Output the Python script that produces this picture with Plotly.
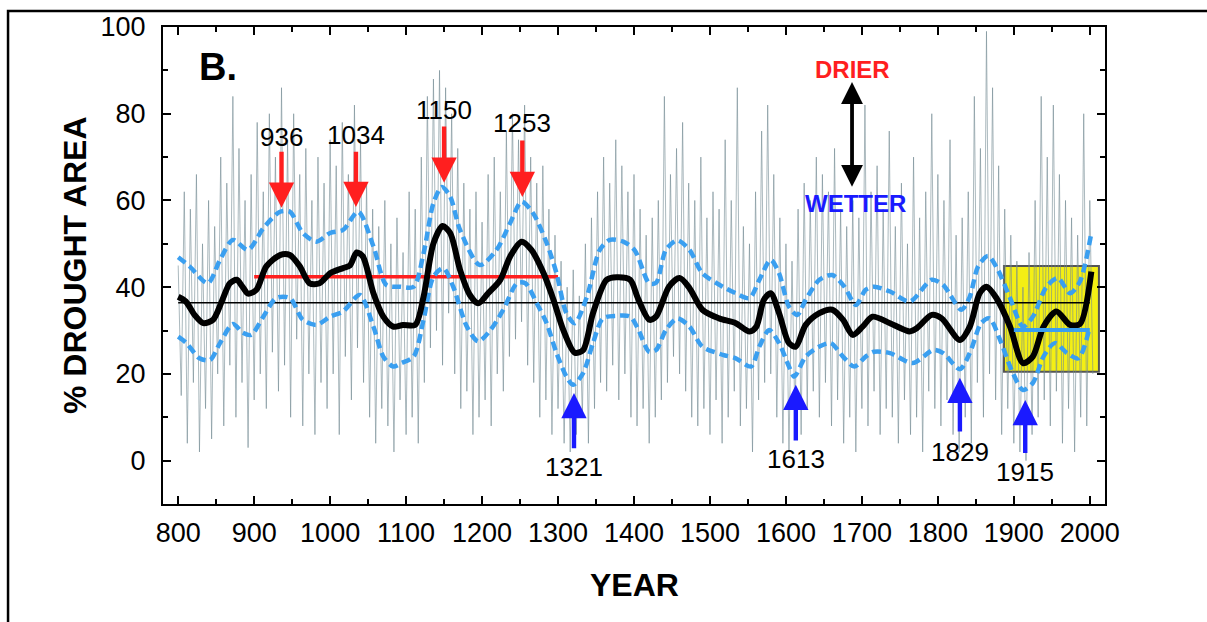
import plotly.graph_objects as go

# ---------------- data ----------------
gray_years = list(range(800, 2005, 4))
gray_vals = [
    45, 15, 62, 4, 58, 18, 66, 2, 50, 12,
    60, 5, 54, 20, 70, 8, 64, 22, 84, 10,
    72, 18, 60, 3, 66, 14, 78, 20, 62, 12,
    80, 25, 70, 16, 86, 22, 74, 10, 80, 28,
    66, 8, 72, 20, 60, 6, 70, 18, 64, 12,
    74, 20, 68, 6, 78, 24, 66, 14, 82, 26,
    74, 18, 64, 10, 58, 4, 54, 12, 60, 8,
    50, 2, 56, 14, 48, 6, 62, 10, 58, 4,
    70, 18, 84, 26, 88, 30, 90, 22, 86, 34,
    80, 20, 72, 12, 64, 16, 58, 6, 62, 10,
    55, 14, 66, 8, 70, 20, 62, 16, 76, 24,
    80, 28, 74, 32, 82, 22, 70, 18, 64, 10,
    68, 14, 58, 6, 52, 12, 46, 4, 40, 2,
    44, 6, 38, 10, 50, 4, 56, 12, 62, 18,
    70, 16, 64, 22, 74, 14, 68, 20, 62, 10,
    66, 8, 58, 12, 52, 4, 56, 10, 60, 14,
    84, 18, 66, 24, 72, 20, 78, 16, 64, 10,
    60, 8, 70, 12, 56, 6, 62, 14, 58, 4,
    74, 10, 60, 16, 86, 8, 54, 12, 50, 2,
    62, 14, 76, 18, 82, 20, 66, 10, 56, 4,
    50, 2, 46, 8, 58, 6, 64, 12, 60, 16,
    70, 10, 66, 18, 62, 8, 72, 14, 58, 4,
    54, 10, 60, 2, 56, 12, 82, 8, 62, 16,
    68, 6, 58, 12, 76, 10, 54, 4, 64, 14,
    50, 6, 70, 10, 56, 2, 62, 16, 80, 12,
    66, 8, 60, 14, 74, 6, 52, 2, 56, 10,
    62, 4, 84, 18, 72, 10, 99, 20, 86, 14,
    68, 6, 58, 12, 52, 4, 46, 2, 40, 0,
    48, 6, 60, 10, 84, 14, 70, 8, 82, 16,
    66, 4, 60, 12, 56, 2, 52, 10, 80, 8,
    60, 20,
]

smooth_years = [800, 810, 822, 833, 846, 858, 868, 877, 885, 892, 903, 916, 934, 947, 960, 973,
                986, 1000, 1017, 1026, 1035, 1043, 1057, 1070, 1083, 1096, 1112, 1123, 1136, 1148,
                1158, 1171, 1184, 1195, 1208, 1224, 1237, 1252, 1265, 1281, 1294, 1307, 1322, 1333,
                1346, 1364, 1377, 1395, 1405, 1420, 1429, 1446, 1460, 1473, 1490, 1512, 1534, 1552,
                1561, 1571, 1580, 1591, 1604, 1613, 1626, 1644, 1661, 1675, 1688, 1701, 1714, 1737,
                1763, 1772, 1792, 1805, 1829, 1842, 1855, 1864, 1877, 1895, 1912, 1925, 1939, 1956,
                1974, 1987, 2002]
smooth_vals = [37.8, 36.7, 33.5, 31.7, 32.5, 37.0, 40.9, 41.7, 40.0, 38.5, 39.4, 44.8, 47.4, 47.4, 44.8, 40.9,
               40.9, 43.2, 44.4, 45.0, 48.0, 47.1, 38.6, 33.2, 30.9, 31.3, 31.3, 37.8, 50.1, 54.1,
               52.5, 44.0, 38.2, 36.3, 38.6, 41.7, 47.1, 50.5, 48.6, 43.2, 37.1, 30.1, 24.9, 25.5,
               34.0, 41.7, 42.3, 41.7, 37.5, 32.5, 33.2, 40.1, 42.1, 39.8, 34.8, 32.8, 31.7, 29.8,
               30.9, 37.1, 38.6, 34.0, 27.1, 26.3, 31.3, 34.0, 34.8, 32.5, 29.0, 30.9, 33.2, 31.7,
               29.8, 30.5, 33.6, 32.8, 27.8, 30.9, 38.6, 40.1, 37.5, 30.9, 22.5, 24.0, 30.9, 34.4,
               31.3, 31.5, 43.6]

upper_years = [800, 815, 839, 855, 872, 892, 912, 934, 947, 964, 982, 1000, 1017, 1037, 1057, 1074,
               1092, 1110, 1123, 1136, 1147, 1158, 1171, 1197, 1219, 1237, 1252, 1267, 1285, 1298,
               1311, 1322, 1338, 1355, 1368, 1386, 1401, 1420, 1429, 1442, 1457, 1473, 1490, 1517,
               1534, 1552, 1565, 1580, 1591, 1604, 1615, 1626, 1644, 1661, 1677, 1692, 1705, 1716,
               1737, 1763, 1792, 1807, 1831, 1842, 1853, 1866, 1879, 1895, 1912, 1925, 1943, 1958,
               1974, 1987, 2002]
upper_vals = [46.9, 44.8, 40.9, 46.3, 50.9, 48.6, 53.6, 57.4, 57.4, 52.5, 50.5, 52.5, 53.2, 57.4, 49.4, 40.5,
              40.1, 40.1, 47.8, 59.4, 63.1, 60.9, 53.2, 45.1, 48.6, 54.8, 59.7, 57.1, 50.2, 43.2,
              34.0, 31.7, 37.8, 48.6, 50.9, 50.5, 48.5, 40.9, 41.0, 48.6, 50.8, 48.6, 43.2, 40.1,
              38.6, 37.5, 41.7, 46.3, 43.2, 35.5, 33.6, 37.1, 41.7, 42.8, 40.1, 35.9, 39.4, 40.1,
              39.0, 36.7, 41.7, 40.5, 34.8, 37.8, 44.8, 47.2, 44.0, 37.5, 30.9, 33.2, 40.1, 42.1,
              38.6, 41.3, 52.5]

lower_years = [800, 811, 828, 842, 855, 872, 885, 896, 912, 929, 947, 964, 982, 1000, 1017, 1039,
               1057, 1070, 1083, 1094, 1110, 1123, 1136, 1149, 1162, 1180, 1195, 1211, 1228, 1246,
               1257, 1272, 1285, 1298, 1311, 1320, 1333, 1346, 1359, 1377, 1395, 1405, 1420, 1429,
               1442, 1457, 1473, 1490, 1517, 1534, 1554, 1565, 1578, 1591, 1604, 1611, 1626, 1644,
               1659, 1675, 1690, 1705, 1716, 1737, 1767, 1794, 1807, 1829, 1842, 1857, 1868, 1882,
               1897, 1912, 1925, 1939, 1954, 1970, 1985, 2000]
lower_vals = [28.6, 27.1, 23.6, 23.2, 27.1, 31.5, 29.5, 29.0, 33.2, 37.5, 37.5, 32.5, 31.3, 33.2, 34.4, 38.2,
              30.9, 24.0, 21.7, 22.5, 24.0, 32.5, 42.4, 44.4, 40.1, 30.9, 27.5, 30.1, 34.8, 40.9,
              40.9, 36.3, 31.7, 24.8, 19.4, 17.5, 20.2, 27.1, 32.8, 33.4, 33.2, 30.5, 25.1, 25.5,
              30.1, 32.8, 30.9, 26.3, 24.4, 23.6, 21.7, 26.3, 30.1, 27.1, 21.7, 19.4, 24.0, 26.3,
              27.1, 24.0, 21.7, 24.0, 25.1, 24.8, 22.5, 25.5, 24.8, 21.1, 24.8, 31.7, 32.8, 27.8,
              20.9, 16.3, 17.9, 24.0, 27.1, 24.8, 23.6, 30.9]

longterm_span = [800, 2000]
longterm_mean = 36.4
medieval_span = [900, 1300]
medieval_mean = 42.4
modern_span = [1900, 2000]
modern_mean = 30.1
box_years = [1887, 2012]
box_vals = [20.5, 44.9]

dry_years = [936, 1034, 1150, 1253]
wet_years = [1321, 1613, 1829, 1915]

x_ticks = list(range(800, 2001, 100))
y_ticks = list(range(0, 101, 20))

# ---------------- figure ----------------
FONT = "Liberation Sans, Arial, Helvetica, sans-serif"
BLUE = "#3a9ff0"

fig = go.Figure()
fig.add_trace(go.Scatter(x=gray_years, y=gray_vals, mode="lines",
                         line=dict(color="rgba(115,138,146,0.6)", width=1), hoverinfo="skip"))
fig.add_trace(go.Scatter(x=longterm_span, y=[longterm_mean] * 2, mode="lines",
                         line=dict(color="black", width=1.5)))
fig.add_trace(go.Scatter(x=medieval_span, y=[medieval_mean] * 2, mode="lines",
                         line=dict(color="#ff1f1f", width=3.5)))
fig.add_trace(go.Scatter(x=upper_years, y=upper_vals, mode="lines", line_shape="spline",
                         line=dict(color=BLUE, width=4.5, dash="9px,5px", smoothing=0.8)))
fig.add_trace(go.Scatter(x=lower_years, y=lower_vals, mode="lines", line_shape="spline",
                         line=dict(color=BLUE, width=4.5, dash="9px,5px", smoothing=0.8)))
fig.add_trace(go.Scatter(x=smooth_years, y=smooth_vals, mode="lines", line_shape="spline",
                         line=dict(color="black", width=6, smoothing=0.8)))
fig.add_trace(go.Scatter(x=modern_span, y=[modern_mean] * 2, mode="lines",
                         line=dict(color=BLUE, width=4)))

fig.add_shape(type="rect", xref="x", yref="y", x0=box_years[0], x1=box_years[1],
              y0=box_vals[0], y1=box_vals[1], fillcolor="#f4ef14",
              line=dict(color="#555555", width=2), layer="below")

# outer frame
fig.add_shape(type="rect", xref="paper", yref="paper", x0=-0.1645, x1=1.2, y0=-0.3, y1=1.0334,
              line=dict(color="black", width=2.5), fillcolor="rgba(0,0,0,0)")

NUMFONT = dict(family=FONT, size=26, color="black")
ann = []
dry_tail = [71.6, 71.6, 77.4, 74.2]
dry_tip = [58.3, 58.5, 64.1, 60.8]
dry_lab = [74.6, 75.1, 80.9, 77.9]
for yr, t0, t1, lab in zip(dry_years, dry_tail, dry_tip, dry_lab):
    ann.append(dict(x=yr, y=t1, ax=yr, ay=t0, xref="x", yref="y", axref="x", ayref="y",
                    text="", showarrow=True, arrowhead=2, arrowsize=1.15, arrowwidth=4.4,
                    arrowcolor="#ff1f1f", standoff=0, startstandoff=0))
    ann.append(dict(x=yr, y=lab, xref="x", yref="y", text=str(yr), showarrow=False,
                    font=NUMFONT, xanchor="center", yanchor="middle"))
wet_tip = [15.6, 17.5, 19.1, 14.0]
wet_tail = [2.5, 4.3, 6.4, 1.4]
wet_lab = [-1.4, 0.4, 2.0, -2.6]
for yr, t1, t0, lab in zip(wet_years, wet_tip, wet_tail, wet_lab):
    ann.append(dict(x=yr, y=t1, ax=yr, ay=t0, xref="x", yref="y", axref="x", ayref="y",
                    text="", showarrow=True, arrowhead=2, arrowsize=1.15, arrowwidth=4.4,
                    arrowcolor="#1a1aff", standoff=0, startstandoff=0))
    ann.append(dict(x=yr, y=lab, xref="x", yref="y", text=str(yr), showarrow=False,
                    font=NUMFONT, xanchor="center", yanchor="middle"))

ann.append(dict(x=852, y=90.8, xref="x", yref="y", text="<b>B.</b>", showarrow=False,
                font=dict(family=FONT, size=38, color="black"), xanchor="center", yanchor="middle"))
ann.append(dict(x=1687, y=90.1, xref="x", yref="y", text="<b>DRIER</b>", showarrow=False,
                font=dict(family=FONT, size=24, color="#ff1f1f"), xanchor="center", yanchor="middle"))
ann.append(dict(x=1691, y=59.4, xref="x", yref="y", text="<b>WETTER</b>", showarrow=False,
                font=dict(family=FONT, size=24, color="#1a1aff"), xanchor="center", yanchor="middle"))
ann.append(dict(x=1687, y=87.3, ax=1687, ay=62.8, xref="x", yref="y", axref="x", ayref="y",
                text="", showarrow=True, arrowhead=2, arrowsize=1.15, arrowwidth=3.8,
                arrowside="end+start", arrowcolor="black", standoff=0, startstandoff=0))

ann.append(dict(x=(75 - 163) / 942, y=(504 - 265) / 479, xref="paper", yref="paper",
                text="<b>% DROUGHT AREA</b>", textangle=-90, showarrow=False,
                xanchor="center", yanchor="middle",
                font=dict(family=FONT, size=32, color="black")))
ann.append(dict(x=(634 - 163) / 942, y=(504 - 585) / 479, xref="paper", yref="paper",
                text="<b>YEAR</b>", showarrow=False, xanchor="center", yanchor="middle",
                font=dict(family=FONT, size=32, color="black")))

axis_common = dict(showgrid=False, zeroline=False, showline=True, linecolor="black", linewidth=2,
                   mirror="allticks", ticks="inside", ticklen=8, tickwidth=2, tickcolor="black",
                   tickfont=dict(family=FONT, size=27, color="black"))

fig.update_layout(
    width=1207, height=622,
    margin=dict(l=163, r=102, t=25, b=118),
    paper_bgcolor="white", plot_bgcolor="white",
    showlegend=False,
    annotations=ann,
    xaxis=dict(range=[780, 2020], tickvals=x_ticks, ticklabelstandoff=4,
               minor=dict(dtick=50, tick0=800, ticks="inside", ticklen=5, tickwidth=1.5,
                          tickcolor="black", showgrid=False),
               **axis_common),
    yaxis=dict(range=[-10, 100], tickvals=y_ticks, ticklabelstandoff=10,
               minor=dict(dtick=10, tick0=0, ticks="inside", ticklen=5, tickwidth=1.5,
                          tickcolor="black", showgrid=False),
               **axis_common),
)

fig.write_html("out.html")
